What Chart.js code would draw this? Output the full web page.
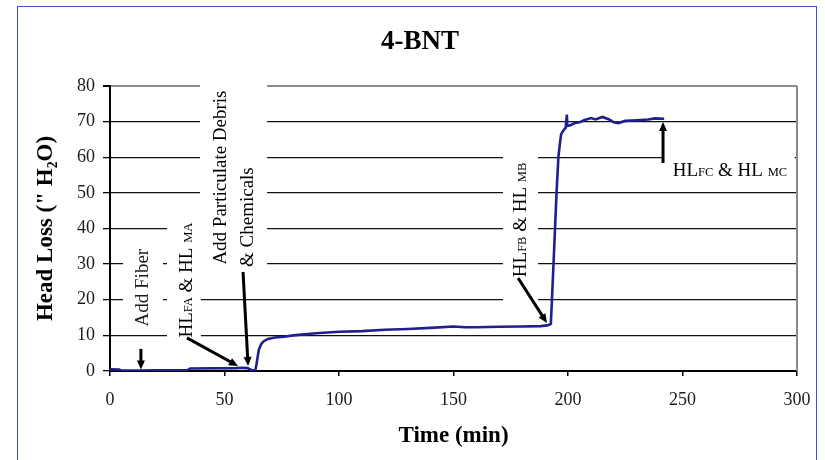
<!DOCTYPE html>
<html>
<head>
<meta charset="utf-8">
<script src="https://cdn.jsdelivr.net/npm/chart.js@4.4.1/dist/chart.umd.min.js"></script>
<style>
  body { margin: 0; background: #fff; }
</style>
</head>
<body>
<canvas id="headLoss" width="825" height="460"></canvas>
<script>
// Head loss trace for the 4-BNT run
const timeMin = [0, 4, 5, 12, 20, 34, 35, 55, 58, 60, 62, 63.5, 64, 65, 66, 67, 69, 72, 76, 80,
    90, 100, 110, 120, 130, 140, 150, 155, 160, 170, 180, 188, 191, 192.5, 193, 194, 195, 195.8,
    196.5, 197, 198, 199, 199.5, 199.7, 201, 203, 205, 207, 210, 212, 215, 218, 220, 222, 225,
    230, 235, 238, 242];
const headLoss = [0.5, 0.4, 0.1, 0.1, 0.2, 0.3, 0.7, 0.8, 0.9, 0.8, 0.2, 0.3, 2, 6, 7.5, 8.3, 9, 9.4, 9.6, 10.0,
    10.6, 11.0, 11.2, 11.6, 11.8, 12.1, 12.5, 12.3, 12.3, 12.4, 12.5, 12.6, 12.8, 13.2, 20, 35, 50, 60,
    64, 66.5, 67.5, 68.3, 72, 68.8, 69, 69.6, 69.8, 70.4, 71, 70.6, 71.3, 70.6, 69.8, 69.6, 70.2,
    70.4, 70.6, 70.9, 70.8];
const xTickValues = [0, 50, 100, 150, 200, 250, 300];
const yTickValues = [0, 10, 20, 30, 40, 50, 60, 70, 80];
const chartTitle = '4-BNT';

const SERIF = '"Liberation Serif", "Times New Roman", serif';

// callout notes: box / text / arrow all given in (min, head loss) units
const callouts = [
    { box: [5.7, 36.8, 23.1, 10.7], rotate: true,
      lines: [{ at: [14.0, 23.4], parts: [['Add Fiber', 19]] }],
      arrow: [[13.5, 6.2], [13.5, 0.4]] },
    { box: [24.9, 43.8, 39.7, 8.1], rotate: true,
      lines: [{ at: [33.0, 25.5], parts: [['HL', 19], ['FA', 12.5], [' & HL ', 19], ['MA', 12.5]] }],
      arrow: [[33.6, 9.3], [55.9, 1.4]] },
    { box: [39.3, 82.2, 68.6, 28.4], rotate: true,
      lines: [{ at: [48.0, 54.3], parts: [['Add Particulate Debris', 19]] },
              { at: [59.8, 43.2], parts: [['& Chemicals', 19]] }],
      arrow: [[58.1, 27.8], [60.3, 1.4]] },
    { box: [171.6, 62, 186.9, 15.7], rotate: true,
      lines: [{ at: [178.8, 42.4], parts: [['HL', 19], ['FB', 12.5], [' & HL ', 19], ['MB', 12.5]] }],
      arrow: [[178.2, 26.1], [190.8, 13.5]] },
    { box: [241.5, 63.4, 299, 52.2], rotate: false,
      lines: [{ at: [270.7, 56.6], parts: [['HL', 19], ['FC', 12.5], [' & HL ', 19], ['MC', 12.5]] }],
      arrow: [[241.5, 58.4], [241.5, 69.9]] }
];

function px(chart, p) {
    return [chart.scales.x.getPixelForValue(p[0]), chart.scales.y.getPixelForValue(p[1])];
}

function drawParts(ctx, parts) {
    let w = 0;
    let big = 0;
    parts.forEach(([t, s]) => { ctx.font = s + 'px ' + SERIF; w += ctx.measureText(t).width; big = Math.max(big, s); });
    let x = -w / 2;
    parts.forEach(([t, s]) => {
        ctx.font = s + 'px ' + SERIF;
        ctx.fillText(t, x, big * 0.33);
        x += ctx.measureText(t).width;
    });
}

function drawArrow(ctx, from, to) {
    const ang = Math.atan2(to[1] - from[1], to[0] - from[0]);
    const head = 9;
    ctx.strokeStyle = '#000';
    ctx.fillStyle = '#000';
    ctx.lineWidth = 3;
    ctx.beginPath();
    ctx.moveTo(from[0], from[1]);
    ctx.lineTo(to[0] - Math.cos(ang) * head * 0.8, to[1] - Math.sin(ang) * head * 0.8);
    ctx.stroke();
    ctx.beginPath();
    ctx.moveTo(to[0], to[1]);
    ctx.lineTo(to[0] - head * Math.cos(ang) + 4 * Math.sin(ang), to[1] - head * Math.sin(ang) - 4 * Math.cos(ang));
    ctx.lineTo(to[0] - head * Math.cos(ang) - 4 * Math.sin(ang), to[1] - head * Math.sin(ang) + 4 * Math.cos(ang));
    ctx.closePath();
    ctx.fill();
}

const notesPlugin = {
    id: 'notes',
    beforeDraw(chart) {
        const ctx = chart.ctx;
        ctx.save();
        ctx.strokeStyle = '#3f51c4';
        ctx.lineWidth = 1;
        ctx.strokeRect(17.5, 6.5, 799, 470);
        // heading, set a little right of the plot centre
        ctx.fillStyle = '#000';
        ctx.font = 'bold 27px ' + SERIF;
        ctx.textAlign = 'center';
        ctx.textBaseline = 'alphabetic';
        ctx.fillText(chartTitle, 420, 48.5);
        ctx.restore();
    },
    beforeDatasetsDraw(chart) {
        const ctx = chart.ctx;
        const a = chart.chartArea;
        ctx.save();
        // white panels behind the notes
        ctx.fillStyle = '#fff';
        callouts.forEach(c => {
            const p0 = px(chart, [c.box[0], c.box[1]]);
            const p1 = px(chart, [c.box[2], c.box[3]]);
            ctx.fillRect(p0[0], p0[1], p1[0] - p0[0], p1[1] - p0[1]);
        });
        // right edge of the plot frame
        ctx.strokeStyle = '#8a8a8a';
        ctx.lineWidth = 2;
        ctx.beginPath();
        ctx.moveTo(a.right, a.top);
        ctx.lineTo(a.right, a.bottom);
        ctx.stroke();
        ctx.restore();
    },
    afterDatasetsDraw(chart) {
        const ctx = chart.ctx;
        ctx.save();
        ctx.fillStyle = '#1a1a1a';
        ctx.textBaseline = 'alphabetic';
        ctx.textAlign = 'left';
        callouts.forEach(c => {
            c.lines.forEach(l => {
                const p = px(chart, l.at);
                ctx.save();
                ctx.translate(p[0], p[1]);
                if (c.rotate) ctx.rotate(-Math.PI / 2);
                drawParts(ctx, l.parts);
                ctx.restore();
            });
            drawArrow(ctx, px(chart, c.arrow[0]), px(chart, c.arrow[1]));
        });
        ctx.restore();
    }
};

new Chart(document.getElementById('headLoss'), {
    type: 'line',
    data: {
        datasets: [{
            data: timeMin.map((t, i) => ({ x: t, y: headLoss[i] })),
            borderColor: '#1f1f8f',
            borderWidth: 2.6,
            pointRadius: 0,
            tension: 0,
            fill: false
        }]
    },
    plugins: [notesPlugin],
    options: {
        responsive: false,
        animation: false,
        layout: { padding: { left: 20, right: 28, top: 86, bottom: 5 } },
        plugins: {
            legend: { display: false },
            tooltip: { enabled: false },
            title: { display: false }
        },
        scales: {
            x: {
                type: 'linear',
                min: 0,
                max: 300,
                afterBuildTicks: s => { s.ticks = xTickValues.map(v => ({ value: v })); },
                afterFit: s => { s.height = 84; },
                grid: { drawOnChartArea: false, drawTicks: true, tickLength: 5, tickColor: '#000', lineWidth: 1.5 },
                border: { color: '#000', width: 2 },
                ticks: { color: '#1a1a1a', padding: 13, font: { family: SERIF, size: 18 }, maxRotation: 0 },
                title: {
                    display: true,
                    text: 'Time (min)',
                    color: '#000',
                    padding: 5,
                    font: { family: SERIF, size: 23, weight: 'bold' }
                }
            },
            y: {
                min: 0,
                max: 80,
                afterBuildTicks: s => { s.ticks = yTickValues.map(v => ({ value: v })); },
                afterFit: s => { s.width = 90; },
                grid: {
                    color: c => c.tick && c.tick.value === 80 ? '#8a8a8a' : '#111',
                    lineWidth: c => c.tick && c.tick.value === 80 ? 2 : 1.3,
                    tickColor: '#000',
                    tickLength: 7
                },
                border: { color: '#000', width: 2 },
                ticks: { color: '#1a1a1a', padding: 8, font: { family: SERIF, size: 18 } },
                title: {
                    display: true,
                    text: 'Head Loss (" H₂O)',
                    color: '#000',
                    padding: 12,
                    font: { family: SERIF, size: 23, weight: 'bold' }
                }
            }
        }
    }
});
</script>
</body>
</html>
